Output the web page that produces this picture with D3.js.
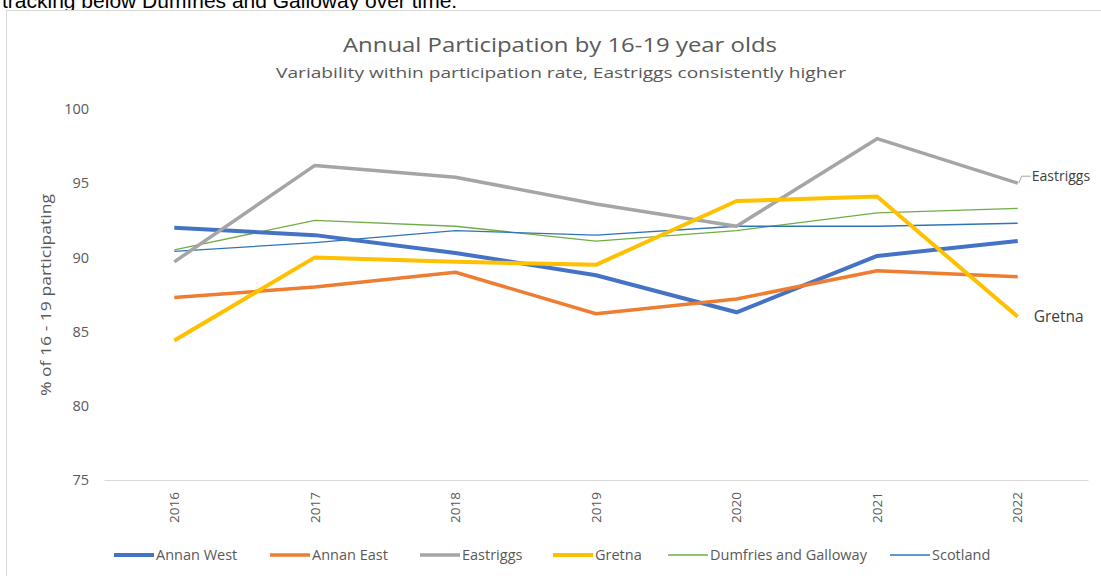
<!DOCTYPE html>
<html>
<head>
<meta charset="utf-8">
<script src="https://cdn.jsdelivr.net/npm/d3@7"></script>
<style>
  body { margin: 0; background: #fff; overflow: hidden; }
  #svgDiv { width: 1101px; height: 576px; }
</style>
</head>
<body>
<div id="svgDiv"></div>
<script>
// data
var years = ["2016", "2017", "2018", "2019", "2020", "2021", "2022"];
var annanWest = [92.0, 91.5, 90.3, 88.8, 86.3, 90.1, 91.1];
var annanEast = [87.3, 88.0, 89.0, 86.2, 87.2, 89.1, 88.7];
var eastriggs = [89.7, 96.2, 95.4, 93.6, 92.1, 98.0, 95.0];
var gretna = [84.4, 90.0, 89.7, 89.5, 93.8, 94.1, 86.0];
var dumfries = [90.5, 92.5, 92.1, 91.1, 91.8, 93.0, 93.3];
var scotland = [90.4, 91.0, 91.8, 91.5, 92.1, 92.1, 92.3];
var yTicks = [75, 80, 85, 90, 95, 100];

var seriesNames = ["Annan West", "Annan East", "Eastriggs", "Gretna", "Dumfries and Galloway", "Scotland"];
var seriesValues = [annanWest, annanEast, eastriggs, gretna, dumfries, scotland];
var seriesColors = ["#4472C4", "#ED7D31", "#A5A5A5", "#FFC000", "#70AD47", "#2E75B6"];
var seriesWidths = [4, 3.5, 3.5, 4, 1.3, 1.3];

var svg, svgWidth, svgHeight, xScale, yScale;
var textColor = "#595959";
var fontFam = "'Open Sans', 'DejaVu Sans', sans-serif";

document.addEventListener('DOMContentLoaded', function(){
    var svgDiv = document.getElementById("svgDiv");
    svgWidth = +svgDiv.offsetWidth;
    svgHeight = +svgDiv.offsetHeight;

    svg = d3.select("#svgDiv")
        .append("svg")
        .attr("width", svgWidth)
        .attr("height", svgHeight);

    drawFrame();
    setScales();
    drawAxes();
    drawLines();
    drawLegend();
});

// the page text above and the chart border
function drawFrame(){
    svg.append("text")
        .attr("x", 2)
        .attr("y", 8)
        .attr("font-family", "'Liberation Sans', Arial, sans-serif")
        .attr("font-size", 21)
        .attr("fill", "#000")
        .text("tracking below Dumfries and Galloway over time.");

    svg.append("rect")
        .attr("x", 6.5)
        .attr("y", 10.5)
        .attr("width", svgWidth)
        .attr("height", svgHeight)
        .attr("fill", "#fff")
        .attr("stroke", "#d9d9d9");

    svg.append("text")
        .attr("x", 560)
        .attr("y", 52)
        .attr("text-anchor", "middle")
        .attr("font-family", fontFam)
        .attr("font-size", 20)
        .attr("fill", textColor)
        .attr("textLength", 434)
        .attr("lengthAdjust", "spacingAndGlyphs")
        .text("Annual Participation by 16-19 year olds");

    svg.append("text")
        .attr("x", 561)
        .attr("y", 78)
        .attr("text-anchor", "middle")
        .attr("font-family", fontFam)
        .attr("font-size", 14)
        .attr("fill", textColor)
        .attr("textLength", 570)
        .attr("lengthAdjust", "spacingAndGlyphs")
        .text("Variability within participation rate, Eastriggs consistently higher");
}

function setScales(){
    xScale = d3.scaleBand()
        .domain(years)
        .range([104, 1088]);

    yScale = d3.scaleLinear()
        .domain([75, 100])
        .range([480, 109]);
}

function drawAxes(){
    var yAxis = d3.axisLeft(yScale)
        .tickValues(yTicks)
        .tickSize(0)
        .tickPadding(0);

    var gy = svg.append("g")
        .attr("transform", "translate(89,0)")
        .call(yAxis);
    gy.select(".domain").remove();
    gy.selectAll("text")
        .attr("font-family", fontFam)
        .attr("font-size", 14.5)
        .attr("fill", textColor);

    var xAxis = d3.axisBottom(xScale).tickSize(0).tickPadding(0);
    var gx = svg.append("g")
        .attr("transform", "translate(0," + yScale(75) + ")")
        .call(xAxis);
    gx.select(".domain").attr("stroke", "#d9d9d9").attr("stroke-width", 1.2);
    gx.selectAll("text")
        .attr("font-family", fontFam)
        .attr("font-size", 13.5)
        .attr("fill", textColor)
        .attr("text-anchor", "end")
        .attr("dy", "0.35em")
        .attr("y", 0)
        .attr("transform", "translate(0,12) rotate(-90)");

    svg.append("text")
        .attr("transform", "translate(51,295) rotate(-90)")
        .attr("text-anchor", "middle")
        .attr("font-family", fontFam)
        .attr("font-size", 15)
        .attr("fill", textColor)
        .attr("textLength", 202)
        .attr("lengthAdjust", "spacingAndGlyphs")
        .text("% of 16 - 19 participating");
}

function drawLines(){
    var line = d3.line()
        .x(function(d, i){ return xScale(years[i]) + xScale.bandwidth() / 2; })
        .y(function(d){ return yScale(d); });

    // thin lines drawn under thick ones, same order as excel
    var order = [4, 5, 0, 1, 2, 3];
    order.forEach(function(k){
        svg.append("path")
            .datum(seriesValues[k])
            .attr("d", line)
            .attr("fill", "none")
            .attr("stroke", seriesColors[k])
            .attr("stroke-width", seriesWidths[k])
            .attr("stroke-linejoin", "round");
    });

    // data labels at the last point
    var lastX = xScale(years[6]) + xScale.bandwidth() / 2;
    var ey = yScale(eastriggs[6]);
    svg.append("path")
        .attr("d", "M" + (lastX + 1) + "," + ey + " L" + (lastX + 4) + "," + (ey - 7) + " L" + (lastX + 13) + "," + (ey - 7))
        .attr("fill", "none")
        .attr("stroke", "#a6a6a6")
        .attr("stroke-width", 1);
    svg.append("text")
        .attr("x", lastX + 14)
        .attr("y", ey - 7)
        .attr("dy", "0.35em")
        .attr("font-family", fontFam)
        .attr("font-size", 14)
        .attr("fill", "#404040")
        .text("Eastriggs");

    svg.append("text")
        .attr("x", lastX + 16)
        .attr("y", yScale(gretna[6]))
        .attr("dy", "0.35em")
        .attr("font-family", fontFam)
        .attr("font-size", 15.5)
        .attr("fill", "#404040")
        .text("Gretna");
}

function drawLegend(){
    var legendX = [114, 270, 420, 553, 668, 890];
    var ly = 555;
    seriesNames.forEach(function(name, i){
        var g = svg.append("g").attr("transform", "translate(" + legendX[i] + "," + ly + ")");
        g.append("line")
            .attr("x1", 0).attr("x2", 40)
            .attr("y1", 0).attr("y2", 0)
            .attr("stroke", seriesColors[i])
            .attr("stroke-width", seriesWidths[i]);
        g.append("text")
            .attr("x", 42)
            .attr("y", 0)
            .attr("dy", "0.35em")
            .attr("font-family", fontFam)
            .attr("font-size", 14.5)
            .attr("fill", textColor)
            .text(name);
    });
}
</script>
</body>
</html>
